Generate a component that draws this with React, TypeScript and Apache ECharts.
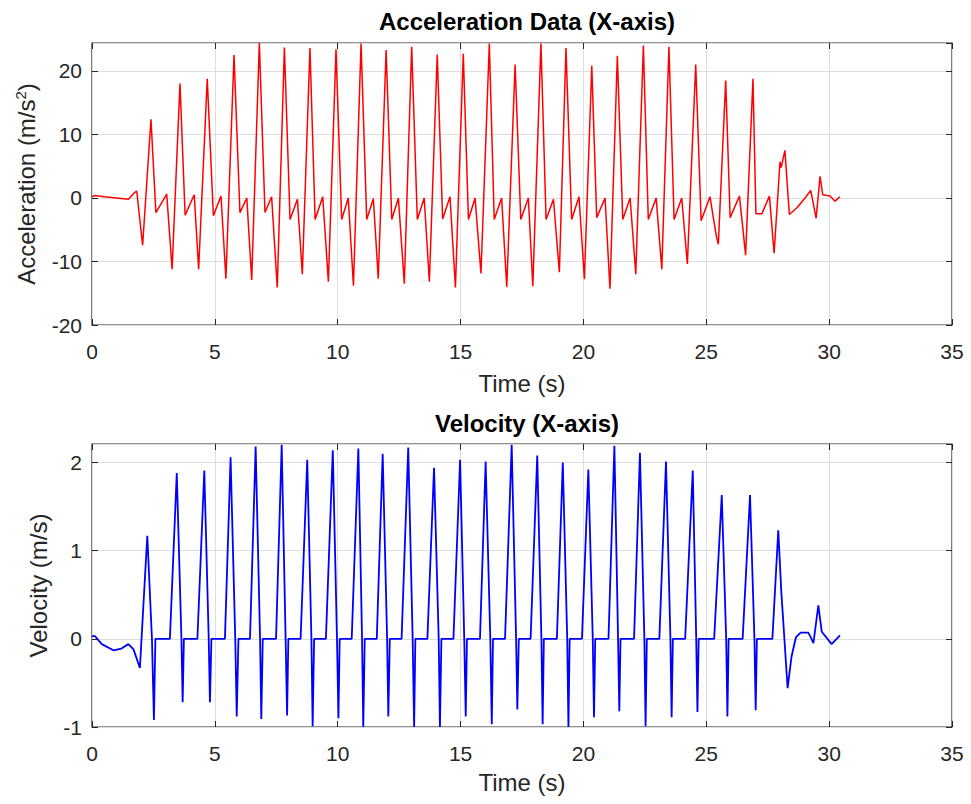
import React, { useEffect, useRef } from "react";
import * as echarts from "echarts";

// [time (s), acceleration (m/s^2)]
const accelerationSamples: [number, number][] = [
  [0, 0.2], [0.12, 0.4], [0.5, 0.2], [1.0, 0.0], [1.48, -0.2], [1.72, 0.8], [1.82, 1.1],
  [2.06, -7.45], [2.4, 12.4], [2.6, -2.3], [3.04, 0.6],
  [3.26, -11.2], [3.58, 18.0], [3.79, -2.7], [4.16, 0.5],
  [4.34, -11.2], [4.69, 18.75], [4.94, -2.8], [5.25, 0.3],
  [5.45, -12.7], [5.78, 22.5], [6.02, -2.3], [6.3, 0.0],
  [6.5, -12.9], [6.81, 24.4], [7.04, -2.3], [7.31, 0.2],
  [7.54, -14.1], [7.83, 23.7], [8.06, -3.4], [8.36, -0.2],
  [8.56, -12.0], [8.87, 23.6], [9.08, -3.4], [9.39, 0.2],
  [9.62, -13.2], [9.93, 23.4], [10.16, -3.4], [10.43, 0.0],
  [10.64, -13.8], [10.95, 24.3], [11.18, -3.4], [11.45, -0.1],
  [11.65, -12.7], [11.97, 23.3], [12.2, -3.4], [12.47, 0.0],
  [12.71, -13.5], [13.01, 23.8], [13.24, -3.4], [13.52, 0.0],
  [13.73, -13.2], [14.05, 22.6], [14.27, -3.3], [14.57, 0.2],
  [14.79, -14.1], [15.11, 22.7], [15.32, -3.4], [15.59, 0.0],
  [15.83, -11.9], [16.17, 24.3], [16.37, -3.4], [16.67, 0.0],
  [16.88, -14.0], [17.22, 21.0], [17.45, -3.4], [17.76, 0.0],
  [17.94, -13.9], [18.27, 24.3], [18.48, -3.4], [18.78, -0.2],
  [19.02, -11.7], [19.29, 23.6], [19.52, -3.4], [19.82, 0.2],
  [20.04, -12.8], [20.34, 20.8], [20.54, -3.1], [20.88, 0.0],
  [21.08, -14.3], [21.38, 22.4], [21.6, -3.4], [21.9, 0.0],
  [22.13, -12.0], [22.44, 24.0], [22.64, -3.4], [22.96, 0.0],
  [23.19, -11.2], [23.48, 23.8], [23.69, -3.4], [24.0, 0.0],
  [24.23, -10.4], [24.57, 21.0], [24.79, -3.6], [25.15, 0.2],
  [25.4, -5.8], [25.49, -7.3], [25.79, 18.5], [25.97, -3.1], [26.35, 0.3],
  [26.6, -9.0], [26.9, 18.75], [27.02, -2.5], [27.26, -2.5], [27.57, 0.3],
  [27.76, -8.7], [28.0, 5.7], [28.05, 4.8], [28.2, 7.5], [28.38, -2.6],
  [28.7, -1.5], [29.02, 0.0], [29.25, 1.2], [29.47, -3.2], [29.63, 3.4],
  [29.74, 0.5], [30.04, 0.3], [30.24, -0.5], [30.44, 0.2],
];

// [time (s), velocity (m/s)]
const velocitySamples: [number, number][] = [
  [0, 0.03], [0.12, 0.03], [0.4, -0.06], [0.87, -0.13], [1.2, -0.11], [1.48, -0.06],
  [1.69, -0.12], [1.95, -0.33], [2.25, 1.17], [2.44, 0], [2.52, -0.92], [2.58, 0],
  [3.17, 0], [3.45, 1.88], [3.64, 0], [3.69, -0.72], [3.74, 0],
  [4.29, 0], [4.57, 1.91], [4.75, 0], [4.8, -0.72], [4.86, 0],
  [5.41, 0], [5.64, 2.06], [5.83, 0], [5.89, -0.88], [5.96, 0],
  [6.43, 0], [6.66, 2.18], [6.84, 0], [6.89, -0.91], [6.95, 0],
  [7.49, 0], [7.72, 2.2], [7.88, 0], [7.94, -0.87], [7.99, 0],
  [8.49, 0], [8.76, 2.03], [8.93, 0], [8.98, -0.99], [9.04, 0],
  [9.52, 0], [9.8, 2.14], [9.97, 0], [10.03, -0.9], [10.08, 0],
  [10.57, 0], [10.84, 2.16], [10.99, 0], [11.04, -1.0], [11.1, 0],
  [11.59, 0], [11.83, 2.1], [12.01, 0], [12.06, -0.88], [12.12, 0],
  [12.6, 0], [12.87, 2.17], [13.05, 0], [13.11, -1.0], [13.16, 0],
  [13.65, 0], [13.92, 1.94], [14.11, 0], [14.16, -1.0], [14.22, 0],
  [14.71, 0], [14.98, 2.03], [15.15, 0], [15.21, -0.88], [15.26, 0],
  [15.79, 0], [16.02, 2.01], [16.21, 0], [16.27, -0.97], [16.32, 0],
  [16.81, 0], [17.08, 2.2], [17.26, 0], [17.31, -0.8], [17.37, 0],
  [17.85, 0], [18.12, 2.08], [18.29, 0], [18.34, -0.97], [18.39, 0],
  [18.92, 0], [19.16, 2.0], [19.34, 0], [19.39, -1.0], [19.44, 0],
  [19.94, 0], [20.2, 1.92], [20.38, 0], [20.43, -0.89], [20.48, 0],
  [21.02, 0], [21.26, 2.19], [21.41, 0], [21.46, -0.82], [21.51, 0],
  [22.06, 0], [22.3, 2.11], [22.48, 0], [22.53, -0.99], [22.58, 0],
  [23.09, 0], [23.36, 2.01], [23.54, 0], [23.59, -0.89], [23.64, 0],
  [24.14, 0], [24.45, 1.91], [24.59, 0], [24.64, -0.83], [24.69, 0],
  [25.32, 0], [25.63, 1.63], [25.81, 0], [25.86, -0.88], [25.91, 0],
  [26.48, 0], [26.78, 1.63], [26.96, 0], [27.01, -0.81], [27.06, 0],
  [27.69, 0], [27.93, 1.23], [28.05, 0.55], [28.31, -0.56], [28.47, -0.2],
  [28.65, 0.02], [28.84, 0.07], [29.15, 0.07], [29.25, 0.02], [29.36, -0.05],
  [29.56, 0.38], [29.7, 0.08], [30.1, -0.06], [30.44, 0.04],
];

const timeRange = { min: 0, max: 35, interval: 5 };
const accRange = { min: -20, max: 24.4, interval: 10 };
const velRange = { min: -1, max: 2.21, interval: 1 };

const titles = ["Acceleration Data (X-axis)", "Velocity (X-axis)"];
const xLabel = "Time (s)";

const FONT = "Liberation Sans, Arial, Helvetica, sans-serif";
const INK = "#262626";
const GRID = "#dedede";
const TICK_FS = 21;
const LABEL_FS = 24;
const TITLE_FS = 24;

export default function App() {
  const ref = useRef<HTMLDivElement>(null);

  useEffect(() => {
    document.body.style.margin = "0";
    if (!ref.current) return;
    const chart = echarts.init(ref.current, null, { renderer: "svg" });

    const gridBox = [
      { left: 92, top: 43, width: 860, height: 282 },
      { left: 92, top: 444, width: 860, height: 283 },
    ];

    const tick = { show: true, inside: true, length: 6, lineStyle: { color: INK } };

    const mainX = (gi: number, gap: number) => ({
      type: "value",
      gridIndex: gi,
      ...timeRange,
      position: "bottom",
      name: xLabel,
      nameLocation: "middle",
      nameGap: gap,
      nameTextStyle: { fontFamily: FONT, fontSize: LABEL_FS, color: INK },
      axisLine: { show: false, onZero: false },
      axisTick: tick,
      axisLabel: { fontFamily: FONT, fontSize: TICK_FS, color: INK, margin: 16 },
      splitLine: { show: true, lineStyle: { color: GRID, width: 1 } },
    });
    const topX = (gi: number) => ({
      type: "value",
      gridIndex: gi,
      ...timeRange,
      position: "top",
      axisLine: { show: false, onZero: false },
      axisTick: tick,
      axisLabel: { show: false },
      splitLine: { show: false },
    });
    const mainY = (gi: number, range: any, name: string, gap: number, rich?: any) => ({
      type: "value",
      gridIndex: gi,
      ...range,
      position: "left",
      name,
      nameLocation: "middle",
      nameRotate: 90,
      nameGap: gap,
      nameTextStyle: { fontFamily: FONT, fontSize: LABEL_FS, color: INK, lineHeight: 28, rich },
      axisLine: { show: false, onZero: false },
      axisTick: tick,
      axisLabel: { fontFamily: FONT, fontSize: TICK_FS, color: INK, margin: 10, showMaxLabel: false },
      splitLine: { show: true, lineStyle: { color: GRID, width: 1 } },
    });
    const rightY = (gi: number, range: any) => ({
      type: "value",
      gridIndex: gi,
      ...range,
      position: "right",
      axisLine: { show: false, onZero: false },
      axisTick: tick,
      axisLabel: { show: false },
      splitLine: { show: false },
    });

    chart.setOption({
      animation: false,
      backgroundColor: "#ffffff",
      title: [
        {
          text: titles[0],
          left: 522,
          top: 4,
          textAlign: "center",
          textStyle: { fontFamily: FONT, fontSize: TITLE_FS, fontWeight: "bold", color: "#000" },
        },
        {
          text: titles[1],
          left: 522,
          top: 406,
          textAlign: "center",
          textStyle: { fontFamily: FONT, fontSize: TITLE_FS, fontWeight: "bold", color: "#000" },
        },
      ],
      grid: gridBox.map((g) => ({
        ...g,
        show: true,
        borderColor: INK,
        borderWidth: 1.2,
        backgroundColor: "#fff",
        containLabel: false,
      })),
      xAxis: [mainX(0, 46), topX(0), mainX(1, 43), topX(1)],
      yAxis: [
        mainY(0, accRange, "Acceleration (m/s{sup|2})", 44, {
          sup: { fontFamily: FONT, fontSize: 15, color: INK, verticalAlign: "top", lineHeight: 28 },
        }),
        rightY(0, accRange),
        mainY(1, velRange, "Velocity (m/s)", 36),
        rightY(1, velRange),
      ],
      series: [
        {
          type: "line",
          name: "Acceleration",
          xAxisIndex: 0,
          yAxisIndex: 0,
          data: accelerationSamples,
          showSymbol: false,
          lineStyle: { color: "#ff0000", width: 1.5 },
          itemStyle: { color: "#ff0000" },
          z: 3,
        },
        {
          type: "line",
          name: "Velocity",
          xAxisIndex: 2,
          yAxisIndex: 2,
          data: velocitySamples,
          showSymbol: false,
          lineStyle: { color: "#0000ff", width: 1.8 },
          itemStyle: { color: "#0000ff" },
          z: 3,
        },
      ],
    });

    return () => chart.dispose();
  }, []);

  return <div ref={ref} style={{ width: 971, height: 804 }} />;
}
